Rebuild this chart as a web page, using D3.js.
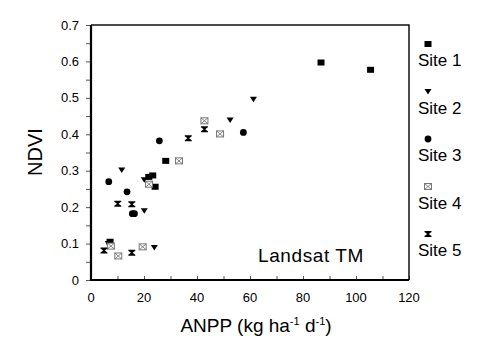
<!DOCTYPE html>
<html lang="en">
<head>
<meta charset="UTF-8">
<title>NDVI vs ANPP - Landsat TM</title>
<script src="https://d3js.org/d3.v7.min.js"></script>
<style>
  body { margin: 0; background: #fff; }
  text { font-family: "Liberation Sans", Arial, sans-serif; fill: #000; }
</style>
</head>
<body>
<div id="chart"></div>
<script>
// values: [ANPP, NDVI]
const site1 = [[7.2,0.105],[21.8,0.283],[23.3,0.287],[24.2,0.256],[28.2,0.327],[86.8,0.597],[105.5,0.577]];
const site2 = [[6.5,0.100],[11.6,0.302],[20.1,0.275],[20.1,0.190],[23.9,0.089],[52.5,0.439],[61.3,0.496]];
const site3 = [[6.7,0.270],[13.6,0.242],[15.6,0.182],[16.4,0.182],[25.8,0.382],[57.5,0.405]];
const site4 = [[7.5,0.093],[10.3,0.066],[19.5,0.091],[21.9,0.263],[33.2,0.327],[42.8,0.437],[48.7,0.401]];
const site5 = [[4.9,0.081],[10.1,0.209],[15.4,0.208],[15.4,0.075],[36.7,0.389],[42.8,0.414]];
const siteNames = ["Site 1","Site 2","Site 3","Site 4","Site 5"];
const xTicks = [0,20,40,60,80,100,120];
const yTicks = [0,0.1,0.2,0.3,0.4,0.5,0.6,0.7];

const W = 492, H = 353;
const m = {left: 91, top: 25, right: 409, bottom: 280};

const svg = d3.select("#chart").append("svg")
  .attr("width", W).attr("height", H);

const x = d3.scaleLinear().domain([0,120]).range([m.left, m.right]);
const y = d3.scaleLinear().domain([0,0.7]).range([m.bottom, m.top]);

// marker shapes
const shapes = [
  g => g.append("rect").attr("x",-3.5).attr("y",-3).attr("width",7).attr("height",6).attr("fill","#000"),
  g => g.append("path").attr("d","M-3.5,-2.5 L3.5,-2.5 L0,3 Z").attr("fill","#000"),
  g => g.append("circle").attr("r",3.4).attr("fill","#000"),
  g => {
    g.append("rect").attr("x",-3.5).attr("y",-3).attr("width",7).attr("height",6)
      .attr("fill","#fff").attr("stroke","#777").attr("stroke-width",1);
    g.append("path").attr("d","M-3.5,-3 L3.5,3 M3.5,-3 L-3.5,3")
      .attr("stroke","#777").attr("stroke-width",0.9);
  },
  g => g.append("path")
    .attr("d","M-3.5,-3 H3.5 V-2 L0.8,0 L3.5,2 V3 H-3.5 V2 L-0.8,0 L-3.5,-2 Z")
    .attr("fill","#000")
];

// axes
const yAxis = svg.append("g").attr("transform",`translate(${m.left},0)`)
  .call(d3.axisLeft(y).tickValues(d3.range(0,0.701,0.05)).tickSize(5).tickFormat(""));
yAxis.select(".domain").remove();
yAxis.selectAll("line").attr("stroke","#555");

svg.selectAll(".ylab").data(yTicks).enter().append("text")
  .attr("x", m.left - 12).attr("y", d => y(d) + 4.5)
  .attr("text-anchor","end").attr("font-size",13)
  .text(d => d === 0 ? "0" : d3.format(".1f")(d));

const xAxis = svg.append("g").attr("transform",`translate(0,${m.bottom})`)
  .call(d3.axisBottom(x).tickValues(d3.range(0,121,10)).tickSize(-4).tickFormat(""));
xAxis.select(".domain").remove();
xAxis.selectAll("line").attr("stroke","#555");

svg.selectAll(".xlab").data(xTicks).enter().append("text")
  .attr("x", d => x(d)).attr("y", m.bottom + 22)
  .attr("text-anchor","middle").attr("font-size",13)
  .text(d => d);

// frame
svg.append("path")
  .attr("d",`M${m.left},${m.top} H${m.right} V${m.bottom}`)
  .attr("fill","none").attr("stroke","#111").attr("stroke-width",1.5);
svg.append("path")
  .attr("d",`M${m.left},${m.top} V${m.bottom} H${m.right}`)
  .attr("fill","none").attr("stroke","#000").attr("stroke-width",2.2);

// points
[site1,site2,site3,site4,site5].forEach((data,i) => {
  svg.selectAll(".p"+i).data(data).enter().append("g")
    .attr("transform", d => `translate(${x(d[0])},${y(d[1])})`)
    .each(function(){ shapes[i](d3.select(this)); });
});

// legend
siteNames.forEach((name,i) => {
  const ly = 44 + i*47.5;
  const g = svg.append("g").attr("transform",`translate(428,${ly})`);
  shapes[i](g);
  svg.append("text").attr("x",418).attr("y",ly + 22).attr("font-size",17).text(name);
});

// labels
svg.append("text")
  .attr("transform","translate(42,152) rotate(-90)")
  .attr("text-anchor","middle").attr("font-size",20).text("NDVI");

const xl = svg.append("text").attr("x",256).attr("y",332)
  .attr("text-anchor","middle").attr("font-size",19);
xl.append("tspan").text("ANPP (kg ha");
xl.append("tspan").attr("font-size",11).attr("dy",-7).text("-1");
xl.append("tspan").attr("dy",7).text(" d");
xl.append("tspan").attr("font-size",11).attr("dy",-7).text("-1");
xl.append("tspan").attr("dy",7).text(")");

svg.append("text").attr("x",311).attr("y",262)
  .attr("text-anchor","middle").attr("font-size",19).attr("letter-spacing",0.6)
  .text("Landsat TM");
</script>
</body>
</html>
